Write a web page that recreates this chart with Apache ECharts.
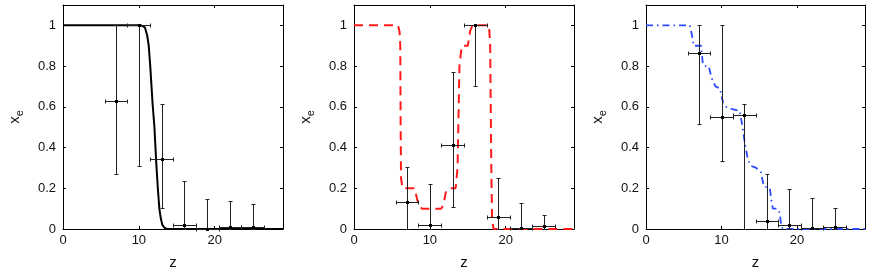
<!DOCTYPE html>
<html><head><meta charset="utf-8">
<script src="https://cdn.jsdelivr.net/npm/echarts@6/dist/echarts.min.js"></script>
<style>html,body{margin:0;padding:0;background:#fff}#c{width:872px;height:272px}</style>
</head><body><div id="c"></div>
<script>
// ---- data ----
const binZ  = [7, 10, 13, 16, 19, 22, 25];
const binLo = [5.5, 8.5, 11.5, 14.5, 17.5, 20.5, 23.5];
const binHi = [8.5, 11.5, 14.5, 17.5, 20.5, 23.5, 26.5];

const p1Y  = [0.63, 1.0, 0.345, 0.018, 0.0, 0.012, 0.008];
const p1Lo = [0.272, 0.31, 0.102, 0, 0, 0, 0];
const p1Hi = [1.0, 1.0, 0.613, 0.236, 0.149, 0.136, 0.123];

const p2Y  = [0.131, 0.018, 0.413, 1.0, 0.058, 0.003, 0.013];
const p2Lo = [0, 0, 0.107, 0.703, 0, 0, 0];
const p2Hi = [0.303, 0.22, 0.769, 1.0, 0.249, 0.129, 0.067];

const p3Y  = [0.865, 0.55, 0.558, 0.04, 0.02, 0.005, 0.008];
const p3Lo = [0.515, 0.332, 0, 0, 0, 0, 0];
const p3Hi = [1.0, 1.0, 0.615, 0.27, 0.195, 0.151, 0.102];

const m1Z = [0, 10.3, 10.8, 11.1, 11.3, 11.5, 11.8, 12.05, 12.3, 12.5, 12.7, 12.9, 13.1, 13.4, 13.7, 29];
const m1X = [1, 1, 0.99, 0.95, 0.9, 0.8, 0.62, 0.5, 0.32, 0.2, 0.1, 0.05, 0.02, 0.005, 0, 0];

const m2Z = [0, 5.8, 6.0, 6.1, 6.15, 6.2, 6.4, 8.0, 8.3, 8.6, 9.0, 11.5, 11.8, 12.1, 12.5, 13.4, 13.65, 13.9, 14.2, 15.0, 15.3, 15.6, 17.8, 17.95, 18.1, 18.2, 18.4, 29];
const m2X = [1, 1, 0.97, 0.9, 0.5, 0.25, 0.2, 0.2, 0.15, 0.11, 0.1, 0.1, 0.12, 0.18, 0.2, 0.2, 0.3, 0.8, 0.9, 0.9, 0.97, 1, 1, 0.9, 0.3, 0.05, 0, 0];

const m3Z = [0, 5.8, 6.1, 6.3, 7.3, 7.5, 7.7, 8.3, 8.7, 9.2, 9.8, 10.2, 10.6, 11.3, 12.4, 12.7, 13.1, 13.5, 13.9, 14.6, 15.2, 15.6, 16.4, 16.6, 16.8, 17.4, 17.7, 17.9, 18.1, 29];
const m3X = [1, 1, 0.95, 0.9, 0.9, 0.82, 0.8, 0.8, 0.74, 0.7, 0.69, 0.62, 0.6, 0.59, 0.58, 0.52, 0.42, 0.34, 0.31, 0.3, 0.28, 0.21, 0.2, 0.14, 0.1, 0.1, 0.08, 0.02, 0, 0];

const xMin = 0, xMax = 29, xStep = 10;
const yMin = 0, yMax = 1.1, yStep = 0.2;

// ---- build ----
const FONT = 'Liberation Sans, Arial, Helvetica, sans-serif';
const grids = [
  {left: 63, top: 5, width: 220, height: 224},
  {left: 354, top: 5, width: 220, height: 224},
  {left: 646, top: 5, width: 219, height: 224}
];
const xAxes = [], yAxes = [];
grids.forEach((g, i) => {
  const lineStyle = {color: '#000', width: 1};
  xAxes.push({
    gridIndex: i, type: 'value', min: xMin, max: xMax, interval: xStep, position: 'bottom',
    name: 'z', nameLocation: 'middle', nameGap: 26,
    nameTextStyle: {fontSize: 15, color: '#111', fontFamily: FONT},
    axisLine: {show: true, onZero: false, lineStyle},
    axisTick: {show: true, inside: true, length: 3, lineStyle},
    axisLabel: {show: true, fontSize: 13, color: '#111', fontFamily: FONT, margin: 5, showMaxLabel: false},
    splitLine: {show: false}
  });
  xAxes.push({
    gridIndex: i, type: 'value', min: xMin, max: xMax, interval: xStep, position: 'top',
    axisLine: {show: true, onZero: false, lineStyle},
    axisTick: {show: true, inside: true, length: 3, lineStyle},
    axisLabel: {show: false}, splitLine: {show: false}
  });
  yAxes.push({
    gridIndex: i, type: 'value', min: yMin, max: yMax, interval: yStep, position: 'left',
    name: '{x|x}{e|e}', nameLocation: 'middle', nameGap: 38,
    nameTextStyle: {color: '#111', fontFamily: FONT, rich: {
      x: {fontSize: 15, lineHeight: 20, verticalAlign: 'middle', fontFamily: FONT, color: '#111'},
      e: {fontSize: 11, lineHeight: 20, verticalAlign: 'bottom', fontFamily: FONT, color: '#111'}
    }},
    axisLine: {show: true, onZero: false, lineStyle},
    axisTick: {show: true, inside: true, length: 3, lineStyle},
    axisLabel: {show: true, fontSize: 13, color: '#111', fontFamily: FONT, margin: 7, showMaxLabel: false,
      formatter: v => String(Math.round(v * 10) / 10)},
    splitLine: {show: false}
  });
  yAxes.push({
    gridIndex: i, type: 'value', min: yMin, max: yMax, interval: yStep, position: 'right',
    axisLine: {show: true, onZero: false, lineStyle},
    axisTick: {show: true, inside: true, length: 3, lineStyle},
    axisLabel: {show: false}, splitLine: {show: false}
  });
});

function zip(a, b) { return a.map((v, i) => [v, b[i]]); }
function errData(y, lo, hi) { return binZ.map((z, i) => [z, y[i], binLo[i], binHi[i], lo[i], hi[i]]); }

function errRender(params, api) {
  const z = api.value(0), y = api.value(1);
  const c = api.coord([z, y]);
  const l = api.coord([api.value(2), y]);
  const r = api.coord([api.value(3), y]);
  const b = api.coord([z, api.value(4)]);
  const t = api.coord([z, api.value(5)]);
  const cx = Math.round(c[0]) + 0.5, cy = Math.round(c[1]) + 0.5;
  const lx = Math.round(l[0]) + 0.5, rx = Math.round(r[0]) + 0.5;
  const by = Math.round(b[1]) + 0.5, ty = Math.round(t[1]) + 0.5;
  const cap = 2;
  const st = {stroke: '#222', lineWidth: 1};
  const ln = (x1, y1, x2, y2) => ({type: 'line', shape: {x1, y1, x2, y2}, style: st});
  return {type: 'group', children: [
    ln(cx, ty, cx, by), ln(cx - cap, ty, cx + cap, ty), ln(cx - cap, by, cx + cap, by),
    ln(lx, cy, rx, cy), ln(lx, cy - cap, lx, cy + cap), ln(rx, cy - cap, rx, cy + cap),
    {type: 'rect', shape: {x: cx - 1.5, y: cy - 1.5, width: 3, height: 3}, style: {fill: '#000'}}
  ]};
}

const models = [
  {z: m1Z, x: m1X, color: '#000', type: 'solid', width: 2},
  {z: m2Z, x: m2X, color: '#ff1a1a', type: [9, 6], width: 2},
  {z: m3Z, x: m3X, color: '#2b4bff', type: [7, 4, 1.5, 4], width: 1.8}
];
const pts = [[p1Y, p1Lo, p1Hi], [p2Y, p2Lo, p2Hi], [p3Y, p3Lo, p3Hi]];
const series = [];
models.forEach((m, i) => {
  series.push({
    type: 'line', xAxisIndex: 2 * i, yAxisIndex: 2 * i, data: zip(m.z, m.x),
    showSymbol: false, symbol: 'none', smooth: false, animation: false, z: 2,
    lineStyle: {color: m.color, width: m.width, type: m.type}
  });
  series.push({
    type: 'custom', xAxisIndex: 2 * i, yAxisIndex: 2 * i, data: errData(...pts[i]),
    renderItem: errRender, animation: false, z: 3, clip: false,
    encode: {x: 0, y: 1}
  });
});

const chart = echarts.init(document.getElementById('c'), null, {renderer: 'canvas'});
chart.setOption({
  backgroundColor: '#fff', animation: false,
  grid: grids.map(g => Object.assign({containLabel: false, outerBoundsMode: 'none'}, g)),
  xAxis: xAxes, yAxis: yAxes, series
});
</script></body></html>
